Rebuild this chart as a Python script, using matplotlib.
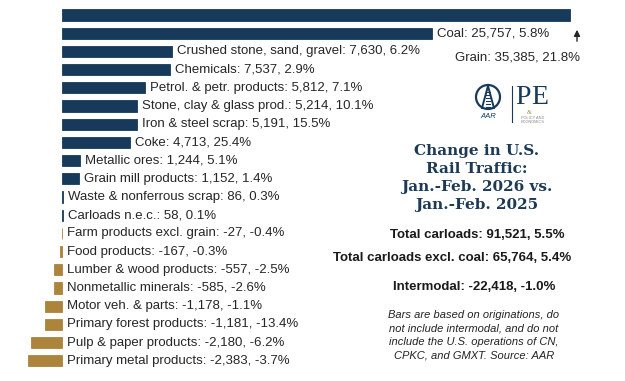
import matplotlib.pyplot as plt
from matplotlib.patches import Circle

plt.rcParams["font.family"] = ["Liberation Sans", "DejaVu Sans"]

# =====================
# 数据
# =====================
categories = [
    "Grain", "Coal", "Crushed stone, sand, gravel", "Chemicals",
    "Petrol. & petr. products", "Stone, clay & glass prod.", "Iron & steel scrap",
    "Coke", "Metallic ores", "Grain mill products", "Waste & nonferrous scrap",
    "Carloads n.e.c.", "Farm products excl. grain", "Food products",
    "Lumber & wood products", "Nonmetallic minerals", "Motor veh. & parts",
    "Primary forest products", "Pulp & paper products", "Primary metal products",
]
changes = [35385, 25757, 7630, 7537, 5812, 5214, 5191, 4713, 1244, 1152,
           86, 58, -27, -167, -557, -585, -1178, -1181, -2180, -2383]
pct = ["21.8%", "5.8%", "6.2%", "2.9%", "7.1%", "10.1%", "15.5%", "25.4%", "5.1%", "1.4%",
       "0.3%", "0.1%", "-0.4%", "-0.3%", "-2.5%", "-2.6%", "-1.1%", "-13.4%", "-6.2%", "-3.7%"]

title = "Change in U.S.\nRail Traffic:\nJan.-Feb. 2026 vs.\nJan.-Feb. 2025"
totals = [
    "Total carloads: 91,521, 5.5%",
    "Total carloads excl. coal: 65,764, 5.4%",
    "Intermodal: -22,418, -1.0%",
]
note = ("Bars are based on originations, do\nnot include intermodal, and do not\n"
        "include the U.S. operations of CN,\nCPKC, and GMXT. Source: AAR")

navy = "#173a5a"
gold = "#ad843c"
W, H = 625, 381
px_per_unit = 508 / 35385
zero_px = 62

fig = plt.figure(figsize=(W / 100, H / 100), dpi=100)
ax = fig.add_axes([0, 0, 1, 1])
ax.set_xlim(-zero_px / px_per_unit, (W - zero_px) / px_per_unit)
row0, step = 15, 18.2
ax.set_ylim((H - row0) / step, -row0 / step)
ax.axis("off")

colors = [navy if v > 0 else gold for v in changes]
y = list(range(len(categories)))
ax.barh(y, changes, height=0.62, color=colors, edgecolor=colors, linewidth=0.6)

gap = 5 / px_per_unit
for i, (c, v, p) in enumerate(zip(categories, changes, pct)):
    if i == 0:
        continue
    ax.text(max(v, 0) + gap, i, f"{c}: {v:,}, {p}", va="center", ha="left",
            fontsize=9.5, color="#262626")

# Grain 标签放在 Coal 下方，箭头指向 Grain 柱
fig.text(455 / W, 1 - 58 / H, f"{categories[0]}: {changes[0]:,}, {pct[0]}",
         va="center", ha="left", fontsize=9.5, color="#262626")
arrow_x = (577 - zero_px) / px_per_unit
ax.annotate("", xy=(arrow_x, (27 - row0) / step),
            xytext=(arrow_x, (44 - row0) / step),
            arrowprops=dict(arrowstyle="-|>", color="#262626", lw=1,
                            mutation_scale=9))

# 简易 logo
logo_ax = fig.add_axes([0, 0, 1, 1], facecolor="none")
logo_ax.set_xlim(0, W)
logo_ax.set_ylim(H, 0)
logo_ax.axis("off")
logo_ax.add_patch(Circle((488, 97), 12, fill=False, ec=navy, lw=1.6))
logo_ax.plot([482, 488, 494], [108, 86, 108], color=navy, lw=1.4)
for yy in range(92, 108, 3):
    logo_ax.plot([486, 490], [yy, yy], color=navy, lw=0.8)
logo_ax.text(488, 116, "AAR", ha="center", va="center", fontsize=5.5,
             style="italic", color=navy)
logo_ax.plot([512, 512], [86, 122], color=navy, lw=0.8)
logo_ax.text(515, 97, "P", ha="left", va="center", fontsize=20,
             family="Liberation Serif", color=navy)
logo_ax.text(531, 97, "E", ha="left", va="center", fontsize=20,
             family="Liberation Serif", color=navy)
logo_ax.text(529, 113, "&", ha="center", va="center", fontsize=4.5,
             family="Liberation Serif", color=gold)
logo_ax.text(533, 120, "POLICY AND\nECONOMICS", ha="center", va="center",
             fontsize=2.8, color="#888888", linespacing=1.1)

logo_ax.text(477, 178, title, ha="center", va="center", fontsize=11,
             fontweight="bold", family="DejaVu Serif", color="#1c3a56",
             linespacing=1.38)
logo_ax.text(477, 235, totals[0], ha="center", va="center", fontsize=9.5,
             fontweight="bold", color="#1a1a1a")
logo_ax.text(452, 258, totals[1], ha="center", va="center", fontsize=9.5,
             fontweight="bold", color="#1a1a1a")
logo_ax.text(474, 287, totals[2], ha="center", va="center", fontsize=9.5,
             fontweight="bold", color="#1a1a1a")
logo_ax.text(474, 335, note, ha="center", va="center", fontsize=8,
             style="italic", color="#222222", linespacing=1.45)

fig.savefig("out.png", dpi=100)
